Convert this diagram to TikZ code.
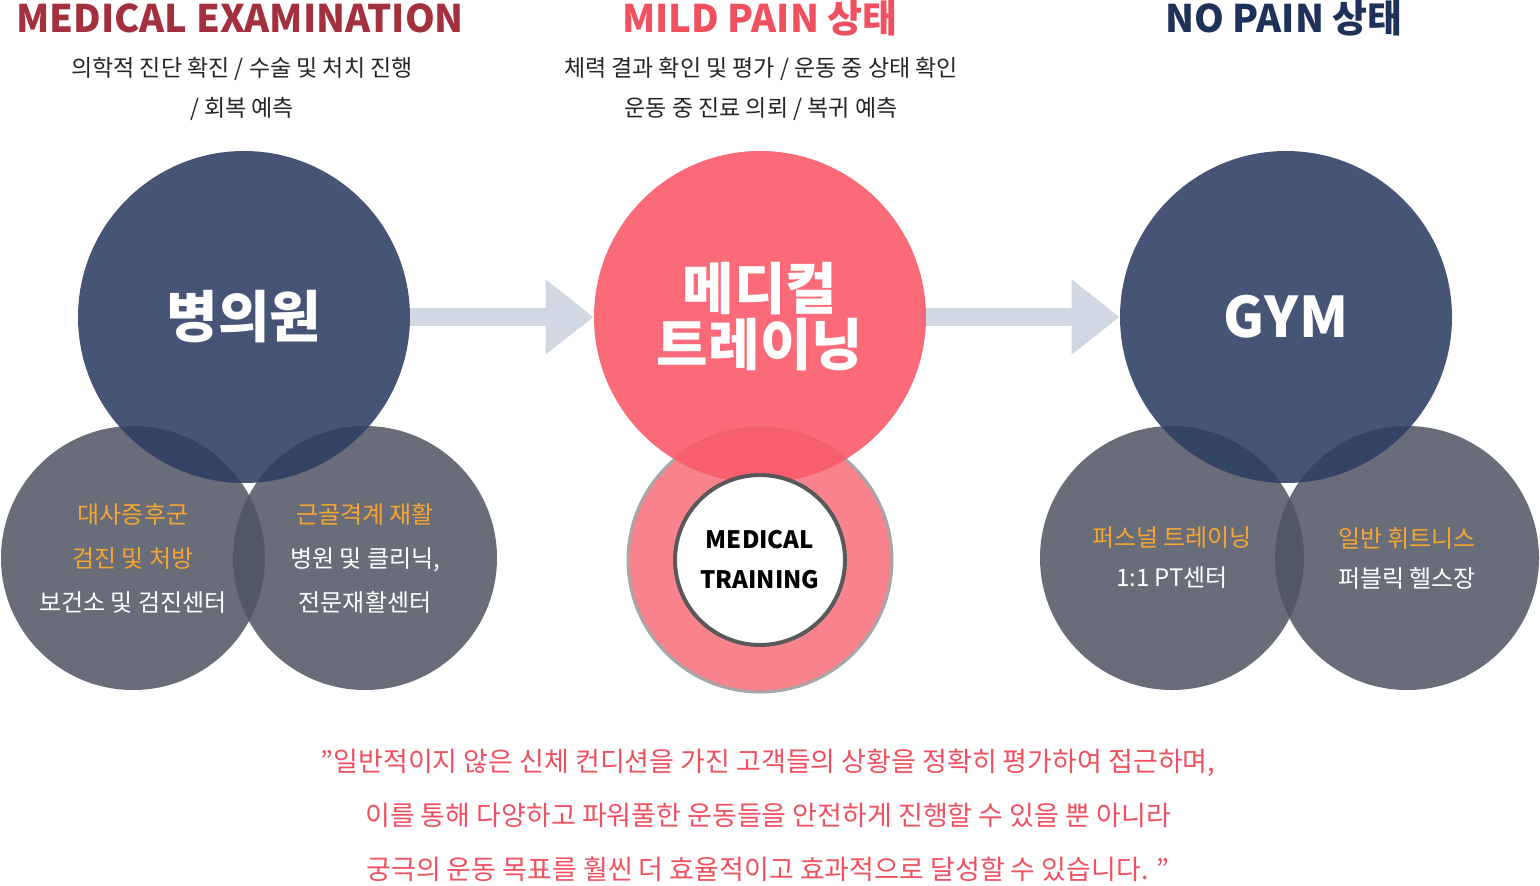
\documentclass[tikz,border=0pt]{standalone}
\usepackage{fontspec}
\setmainfont{Noto Sans CJK KR}
\usetikzlibrary{arrows.meta}
\definecolor{navy}{HTML}{1E3158}
\definecolor{navyc}{HTML}{2C3E63}
\definecolor{grayc}{HTML}{4F5462}
\definecolor{maroon}{HTML}{A3303D}
\definecolor{pinkt}{HTML}{F0505F}
\definecolor{pinkc}{HTML}{F95A69}
\definecolor{ringc}{HTML}{F8838D}
\definecolor{orng}{HTML}{F7A531}
\definecolor{arr}{HTML}{D2D8E3}
\tikzset{
 bigc/.style={circle,fill=navyc,fill opacity=0.88,text opacity=1,text=white,minimum size=332pt*0.5,inner sep=0},
 smc/.style={circle,fill=grayc,fill opacity=0.85,text opacity=1,text=white,minimum size=264pt*0.5,inner sep=0,align=center,font=\fontsize{12}{20}\selectfont},
 ttl/.style={font=\fontsize{19}{22}\selectfont\bfseries},
 sub/.style={font=\fontsize{11.5}{20}\selectfont,align=center,text=black!85},
 bigt/.style={font=\fontsize{28}{32}\selectfont\bfseries,text=white,align=center},
 flow/.style={line width=9pt,draw=arr,-{Triangle[length=24pt,width=36pt]},shorten >=0pt},
 quote/.style={font=\fontsize{13.5}{27}\selectfont,text=pinkt,align=center}
}
\begin{document}
\begin{tikzpicture}[x=0.5pt,y=-0.5pt]
\useasboundingbox (0,0) rectangle (1540,885);
% titles
\node[ttl,text=maroon] (t1) at (240,18) {MEDICAL EXAMINATION};
\node[ttl,text=pinkt] (t2) at (760,18) {MILD PAIN 상태};
\node[ttl,text=navy] (t3) at (1284,18) {NO PAIN 상태};
\node[sub] (s1) at (242,89) {의학적 진단 확진 / 수술 및 처치 진행\\/ 회복 예측};
\node[sub] (s2) at (761,89) {체력 결과 확인 및 평가 / 운동 중 상태 확인\\운동 중 진료 의뢰 / 복귀 예측};
% left group
\node[smc] (l1) at (133,558) {};
\node[smc] (l2) at (365,558) {};
\node[bigc] (L) at (244,317) {};
\node[bigt] at (L) {병의원};
\node[smc,fill opacity=0,align=center] at (l1) {\textcolor{orng}{대사증후군}\\[2pt]\textcolor{orng}{검진 및 처방}\\[2pt]보건소 및 검진센터};
\node[smc,fill opacity=0] at (l2) {\textcolor{orng}{근골격계 재활}\\[2pt]병원 및 클리닉,\\[2pt]전문재활센터};
% middle group
\node[circle,fill=ringc,draw=black!35,line width=1.5pt,minimum size=264pt*0.5] (m1) at (760,560) {};
\node[circle,fill=pinkc,fill opacity=0.9,minimum size=332pt*0.5] (M) at (760,317) {};
\node[bigt] at (M) {메디컬\\[-4pt]트레이닝};
\node[circle,fill=white,draw=black!65,line width=2pt,minimum size=170pt*0.5,align=center,font=\fontsize{12}{20}\selectfont\bfseries] (m2) at (760,560) {MEDICAL\\TRAINING};
% right group
\node[smc] (r1) at (1172,558) {};
\node[smc] (r2) at (1407,558) {};
\node[bigc] (R) at (1286,317) {};
\node[bigt] at (R) {GYM};
\node[smc,fill opacity=0] at (r1) {\textcolor{orng}{퍼스널 트레이닝}\\1:1 PT센터};
\node[smc,fill opacity=0] at (r2) {\textcolor{orng}{일반 휘트니스}\\퍼블릭 헬스장};
% arrows
\draw[flow] (L.east) -- (M.west);
\draw[flow] (M.east) -- (R.west);
% quote
\node[quote] (q) at (768,815) {"일반적이지 않은 신체 컨디션을 가진 고객들의 상황을 정확히 평가하여 접근하며,\\이를 통해 다양하고 파워풀한 운동들을 안전하게 진행할 수 있을 뿐 아니라\\궁극의 운동 목표를 훨씬 더 효율적이고 효과적으로 달성할 수 있습니다. "};
\end{tikzpicture}
\end{document}
